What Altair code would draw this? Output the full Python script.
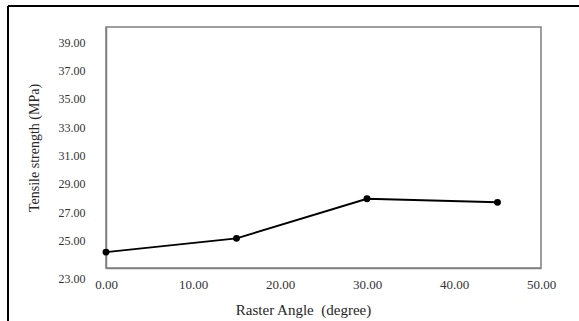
import altair as alt
import pandas as pd

angles = [0, 15, 30, 45]
strength = [24.12, 25.09, 27.89, 27.63]
y_ticks = [23, 25, 27, 29, 31, 33, 35, 37, 39]
x_ticks = [0, 10, 20, 30, 40, 50]

df = pd.DataFrame({"angle": angles, "strength": strength})
FONT = "Liberation Serif"

x = alt.X("angle:Q", scale=alt.Scale(domain=[0, 50], nice=False),
          axis=alt.Axis(values=x_ticks, format=".2f", title="Raster Angle\u00a0\u00a0(degree)",
                        grid=False, ticks=False, labelPadding=10, titlePadding=11,
                        labelFontSize=13, titleFontSize=15,
                        labelFlush=False, titleX=197, titleAlign="center"))
y = alt.Y("strength:Q", scale=alt.Scale(domain=[23, 40], nice=False, zero=False),
          axis=alt.Axis(values=y_ticks, format=".2f", title="Tensile strength (MPa)",
                        grid=False, ticks=False, labelPadding=21, titlePadding=17,
                        labelFontSize=12, titleFontSize=14,
                        labelFlush=False,
                        labelOffset={"expr": "datum.value == 23 ? 10 : 1"}))

line = alt.Chart(df).mark_line(color="black", strokeWidth=2).encode(x=x, y=y)
pts = alt.Chart(df).mark_point(filled=True, color="black", size=48, opacity=1).encode(x=x, y=y)

frame_top = alt.Chart(df).mark_rule(color="black", strokeWidth=1.5).encode(
    x=alt.value(-98), x2=alt.value(480), y=alt.value(-21))
frame_left = alt.Chart(df).mark_rule(color="black", strokeWidth=1.5).encode(
    x=alt.value(-98), y=alt.value(-21), y2=alt.value(300))

chart = alt.layer(line, pts, frame_top, frame_left).properties(
    width=435, height=241,
    background="white",
    autosize=alt.AutoSizeParams(type="none"),
    padding={"left": 106, "top": 27, "right": 38, "bottom": 53},
).configure_view(stroke="#7f7f7f", strokeWidth=1.5).configure_axis(
    domainColor="#7f7f7f", domainWidth=1.5,
    labelFont=FONT, labelColor="#333333",
    titleFont=FONT, titleColor="#262626", titleFontWeight="normal",
)

chart.save("out.html", embed_options={"renderer": "svg", "actions": False})
